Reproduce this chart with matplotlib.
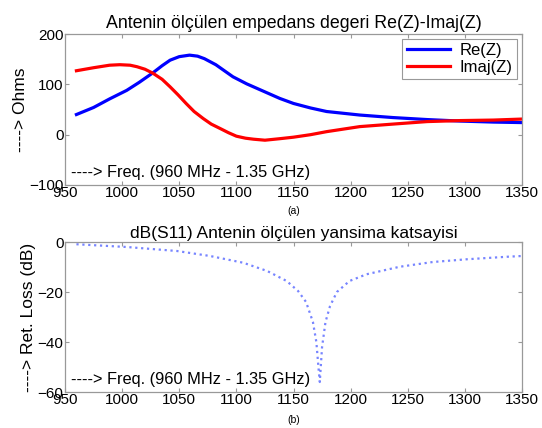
import matplotlib
matplotlib.use("Agg")
import matplotlib.pyplot as plt

plt.rcParams['font.family'] = ['Liberation Sans', 'DejaVu Sans']

# ---- data ----
freq_z = [960, 975, 989, 1004, 1015, 1027, 1035, 1042, 1050, 1059, 1066, 1072, 1077,
          1082, 1087, 1092, 1097, 1103, 1109, 1115, 1121, 1130, 1138, 1144, 1150,
          1165, 1179, 1208, 1237, 1267, 1296, 1325, 1350]
re_z = [40, 54, 71, 88, 104, 123, 137, 148, 155, 158, 156, 151, 145,
        139, 131, 123, 115, 108, 101, 95, 89, 80, 72, 67, 62,
        53, 46, 39, 34, 30, 27, 25, 24]

freq_i = [960, 975, 989, 998, 1007, 1013, 1020, 1027, 1035, 1042, 1049, 1056, 1063,
          1071, 1078, 1086, 1093, 1100, 1108, 1115, 1125, 1138, 1150, 1165, 1179,
          1208, 1237, 1267, 1296, 1325, 1350]
imaj_z = [127, 133, 138, 139, 138, 135, 130, 122, 110, 95, 79, 62, 46,
          32, 21, 12, 4, -3, -7, -9, -11, -8, -5, 0, 6,
          16, 21, 26, 28, 29, 31]

freq_s = [960, 1004, 1048, 1077, 1106, 1127, 1144, 1154, 1161, 1167, 1170, 1172,
          1173, 1175, 1178, 1182, 1188, 1199, 1214, 1243, 1272, 1302, 1337, 1350]
s11 = [-0.9, -2.0, -3.6, -5.6, -8.3, -11.6, -15.6, -19.6, -24, -32, -40, -51,
       -56, -42, -32, -25.6, -20, -15.6, -12.9, -9.9, -8.0, -6.9, -5.9, -5.6]

title_a = "Antenin ölçülen empedans degeri Re(Z)-Imaj(Z)"
title_b = "dB(S11) Antenin ölçülen yansima katsayisi"
freq_note = "----> Freq. (960 MHz - 1.35 GHz)"
xticks = [950, 1000, 1050, 1100, 1150, 1200, 1250, 1300, 1350]

W, H = 542, 428
fig = plt.figure(figsize=(W / 100, H / 100), dpi=100)
ax1 = fig.add_axes([65 / W, 1 - 185 / H, 457 / W, 151 / H])
ax2 = fig.add_axes([65 / W, 1 - 392 / H, 457 / W, 150 / H])

fs = 11
ax1.plot(freq_z, re_z, color='#0000ff', lw=2.3, label='Re(Z)')
ax1.plot(freq_i, imaj_z, color='#ff0000', lw=2.3, label='Imaj(Z)')
ax1.set_xlim(950, 1350)
ax1.set_ylim(-100, 200)
ax1.set_yticks([-100, 0, 100, 200])
ax1.set_xticks(xticks)
ax1.set_title(title_a, fontsize=12.8, pad=4)
ax1.set_ylabel("----> Ohms", fontsize=12.5, labelpad=1)
ax1.text(0.013, 0.035, freq_note, transform=ax1.transAxes, fontsize=11.8,
         ha='left', va='bottom')
leg = ax1.legend(loc='upper right', fontsize=12, handlelength=2.6, borderpad=0.25,
                 labelspacing=0.1, fancybox=False, edgecolor='#999999', framealpha=1,
                 borderaxespad=0.3, handletextpad=0.6)
leg.get_frame().set_linewidth(0.8)
fig.text(294 / W, 1 - 211 / H, "(a)", fontsize=7.5, ha='center', va='center')

ax2.plot(freq_s, s11, color='#4a5cff', lw=1.6, ls=':', alpha=0.75)
ax2.set_xlim(950, 1350)
ax2.set_ylim(-60, 0)
ax2.set_yticks([-60, -40, -20, 0])
ax2.set_xticks(xticks)
ax2.set_title(title_b, fontsize=12.5, pad=3)
ax2.set_ylabel("----> Ret. Loss (dB)", fontsize=12.5, labelpad=1)
ax2.text(0.013, 0.035, freq_note, transform=ax2.transAxes, fontsize=11.8,
         ha='left', va='bottom')
fig.text(294 / W, 1 - 420 / H, "(b)", fontsize=7.5, ha='center', va='center')

for ax in (ax1, ax2):
    ax.tick_params(direction='in', labelsize=fs, length=3, top=True, right=True,
                   pad=1, color='#999999')
    for s in ax.spines.values():
        s.set_color('#999999')
        s.set_linewidth(0.9)

fig.savefig("out.png", dpi=100)
